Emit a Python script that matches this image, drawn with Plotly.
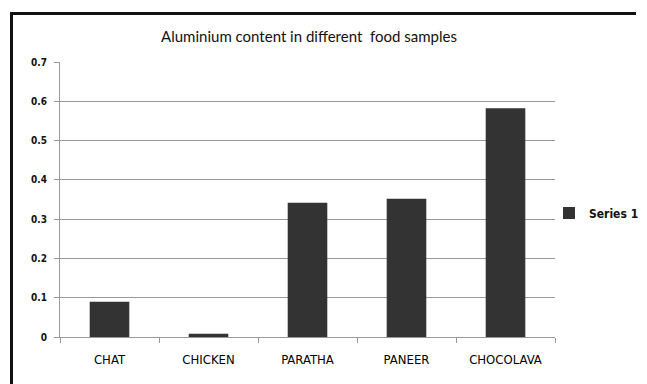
import plotly.graph_objects as go

categories = ["CHAT", "CHICKEN", "PARATHA", "PANEER", "CHOCOLAVA"]
values = [0.09, 0.008, 0.342, 0.352, 0.583]
series_name = "Series 1"
y_ticks = [0, 0.1, 0.2, 0.3, 0.4, 0.5, 0.6, 0.7]
y_tick_labels = ["0", "0.1", "0.2", "0.3", "0.4", "0.5", "0.6", "0.7"]

# the page body has an 8px margin, so figure coords = screenshot coords - 8
W, H = 639, 376
L, T = 52, 54
plot_right, plot_bottom = 547, 329
R, B = W - plot_right, H - plot_bottom
pw, ph = W - L - R, H - T - B

def px_to_paper_x(px):
    return (px - L) / pw

def px_to_paper_y(py):
    return (H - B - py) / ph

NARROW = "Liberation Sans Narrow, DejaVu Sans Condensed, sans-serif"
COND = "DejaVu Sans Condensed, sans-serif"

fig = go.Figure()
fig.add_trace(go.Bar(
    x=categories, y=values, name=series_name,
    marker=dict(color="#333333", line=dict(width=0)),
    showlegend=True,
))

fig.update_layout(
    width=W, height=H,
    margin=dict(l=L, r=R, t=T, b=B, autoexpand=False),
    paper_bgcolor="white", plot_bgcolor="white",
    bargap=0.6,
    title=dict(text="Aluminium content in different  food samples",
               x=px_to_paper_x(301), xref="paper", xanchor="center",
               y=1 - 29 / H, yanchor="middle",
               font=dict(family="Lato, Open Sans, sans-serif", size=15, color="#111")),
    showlegend=True,
    legend=dict(x=px_to_paper_x(541), y=px_to_paper_y(205), xanchor="left", yanchor="middle",
                font=dict(family=COND, size=12, color="#111", weight="bold"),
                itemwidth=30, bgcolor="rgba(0,0,0,0)"),
    font=dict(family=COND, color="#111"),
)

fig.update_yaxes(
    range=[0, 0.7005], tickvals=y_ticks, ticktext=y_tick_labels,
    showgrid=True, gridcolor="#999999", gridwidth=1,
    showline=True, linecolor="#999999", linewidth=1,
    ticks="outside", ticklen=5, tickcolor="#999999",
    ticklabelstandoff=5,
    tickfont=dict(family=NARROW, size=10, color="#111", weight="bold"),
    zeroline=False,
)
fig.update_xaxes(
    showline=True, linecolor="#999999", linewidth=1,
    ticks="outside", tickson="boundaries", ticklen=5, tickcolor="#999999",
    ticklabelstandoff=10,
    tickfont=dict(family=COND, size=13, color="#000"),
    showgrid=False,
)

# outer chart frame: only its left and top edges fall inside the picture
frame_left, frame_top, frame_right, frame_bottom = 3.5, 5.5, 628, H
fig.add_shape(type="line", xref="paper", yref="paper",
              x0=px_to_paper_x(frame_left), x1=px_to_paper_x(frame_right),
              y0=px_to_paper_y(frame_top), y1=px_to_paper_y(frame_top),
              line=dict(color="#111", width=3), layer="above")
fig.add_shape(type="line", xref="paper", yref="paper",
              x0=px_to_paper_x(frame_left), x1=px_to_paper_x(frame_left),
              y0=px_to_paper_y(frame_top - 1.5), y1=px_to_paper_y(frame_bottom),
              line=dict(color="#111", width=3), layer="above")

fig.write_html("out.html")
